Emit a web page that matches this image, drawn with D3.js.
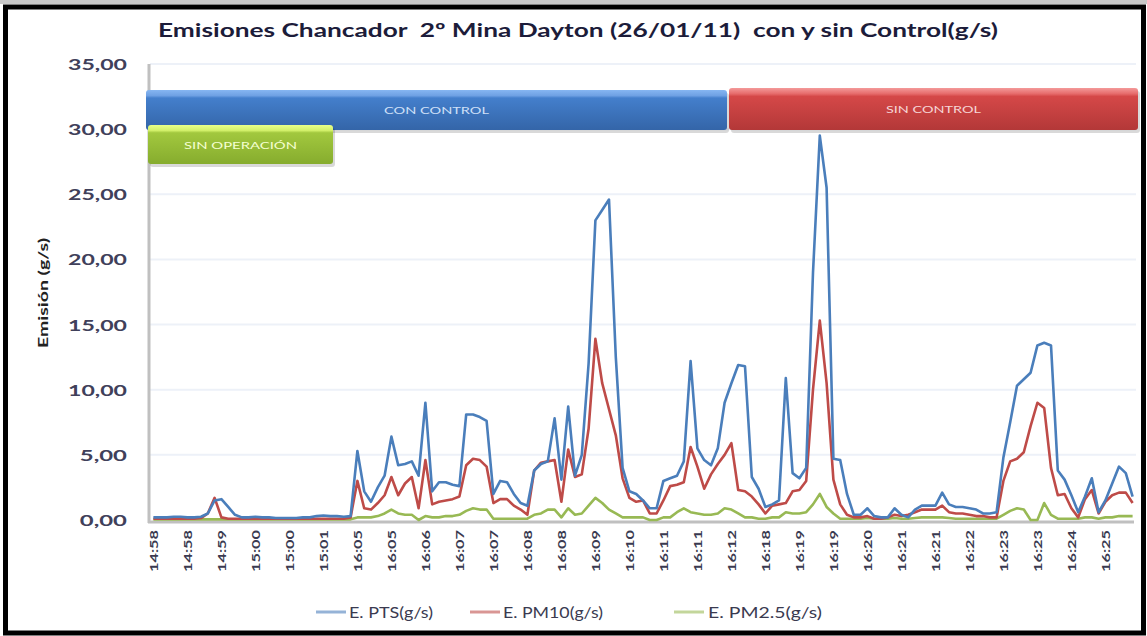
<!DOCTYPE html>
<html>
<head>
<meta charset="utf-8">
<script src="https://cdn.jsdelivr.net/npm/d3@7"></script>
<style>
    body { margin: 0; background: #fff; }
    #chart { width: 1147px; height: 636px; }
    text { font-family: Lato, "Open Sans", sans-serif; }
    .title { white-space: pre; }
</style>
</head>
<body>
<div id="chart"></div>
<script>

// tick labels, one every 5 readings
var tickLabels = ["14:58", "14:58", "14:59", "15:00", "15:00", "15:01", "16:05", "16:05", "16:06", "16:07",
    "16:07", "16:08", "16:08", "16:09", "16:10", "16:11", "16:11", "16:12", "16:18", "16:19",
    "16:19", "16:20", "16:21", "16:21", "16:22", "16:23", "16:23", "16:24", "16:25"];

// E. PTS (g/s)
var pts = [0.2, 0.2, 0.2, 0.25, 0.25, 0.2, 0.2, 0.25, 0.5, 1.5,
    1.6, 1.0, 0.4, 0.2, 0.2, 0.25, 0.2, 0.2, 0.15, 0.15,
    0.15, 0.15, 0.2, 0.2, 0.3, 0.35, 0.3, 0.3, 0.25, 0.3,
    5.3, 2.2, 1.4, 2.5, 3.4, 6.4, 4.2, 4.3, 4.5, 3.4,
    9.0, 2.2, 2.9, 2.9, 2.7, 2.6, 8.1, 8.1, 7.9, 7.6,
    2.0, 3.0, 2.9, 2.0, 1.3, 1.1, 3.8, 4.3, 4.5, 7.8,
    3.1, 8.7, 3.4, 5.0, 12.0, 23.0, 23.8, 24.6, 12.5, 4.0,
    2.2, 2.0, 1.5, 0.9, 0.9, 3.0, 3.2, 3.4, 4.5, 12.2,
    5.5, 4.6, 4.2, 5.5, 9.0, 10.5, 11.9, 11.8, 3.3, 2.4,
    1.0, 1.2, 1.5, 10.9, 3.6, 3.2, 4.0, 19.0, 29.5, 25.5,
    4.7, 4.6, 2.0, 0.4, 0.4, 0.9, 0.3, 0.2, 0.2, 0.9,
    0.4, 0.2, 0.8, 1.1, 1.1, 1.1, 2.1, 1.2, 1.0, 1.0,
    0.9, 0.8, 0.5, 0.5, 0.6, 4.8, 7.5, 10.3, 10.8, 11.3,
    13.4, 13.6, 13.4, 3.8, 3.1, 1.9, 0.6, 1.8, 3.2, 0.6,
    1.5, 2.8, 4.1, 3.6, 1.8];

// E. PM10 (g/s)
var pm10 = [0.1, 0.1, 0.1, 0.1, 0.1, 0.1, 0.1, 0.15, 0.5, 1.7,
    0.2, 0.1, 0.1, 0.1, 0.1, 0.1, 0.1, 0.1, 0.1, 0.1,
    0.1, 0.1, 0.1, 0.1, 0.1, 0.1, 0.1, 0.1, 0.1, 0.2,
    3.0, 0.9, 0.8, 1.3, 1.9, 3.3, 1.9, 2.8, 3.3, 0.9,
    4.6, 1.2, 1.4, 1.5, 1.6, 1.8, 4.2, 4.7, 4.6, 4.1,
    1.3, 1.6, 1.6, 1.1, 0.8, 0.4, 3.8, 4.4, 4.5, 4.6,
    1.4, 5.4, 3.3, 3.5, 7.0, 13.9, 10.5, 8.5, 6.5, 3.2,
    1.7, 1.4, 1.5, 0.5, 0.5, 1.5, 2.6, 2.7, 2.9, 5.6,
    4.1, 2.4, 3.5, 4.3, 5.0, 5.9, 2.3, 2.2, 1.8, 1.2,
    0.5, 1.1, 1.2, 1.3, 2.2, 2.3, 3.0, 10.0, 15.3, 10.5,
    3.1, 1.2, 0.4, 0.2, 0.2, 0.3, 0.1, 0.1, 0.2, 0.4,
    0.3, 0.4, 0.6, 0.8, 0.8, 0.8, 1.1, 0.6, 0.5, 0.5,
    0.4, 0.3, 0.3, 0.2, 0.2, 3.0, 4.5, 4.7, 5.2, 7.2,
    9.0, 8.6, 4.0, 1.9, 2.0, 0.9, 0.2, 1.6, 2.3, 0.5,
    1.4, 1.9, 2.1, 2.1, 1.3];

// E. PM2.5 (g/s)
var pm25 = [0.05, 0.05, 0.05, 0.05, 0.05, 0.05, 0.05, 0.05, 0.05, 0.05,
    0.05, 0.05, 0.05, 0.05, 0.05, 0.05, 0.05, 0.05, 0.05, 0.05,
    0.05, 0.05, 0.05, 0.05, 0.05, 0.05, 0.05, 0.05, 0.05, 0.05,
    0.2, 0.2, 0.2, 0.3, 0.5, 0.8, 0.5, 0.4, 0.4, 0.0,
    0.3, 0.2, 0.2, 0.3, 0.3, 0.4, 0.7, 0.9, 0.8, 0.8,
    0.1, 0.1, 0.1, 0.1, 0.1, 0.1, 0.4, 0.5, 0.8, 0.8,
    0.2, 0.9, 0.4, 0.5, 1.1, 1.7, 1.3, 0.8, 0.5, 0.2,
    0.2, 0.2, 0.2, 0.0, 0.0, 0.2, 0.2, 0.6, 0.9, 0.6,
    0.5, 0.4, 0.4, 0.5, 0.9, 0.8, 0.5, 0.2, 0.2, 0.1,
    0.1, 0.2, 0.2, 0.6, 0.5, 0.5, 0.6, 1.2, 2.0, 1.0,
    0.5, 0.1, 0.1, 0.1, 0.1, 0.15, 0.1, 0.1, 0.1, 0.15,
    0.1, 0.1, 0.15, 0.2, 0.2, 0.2, 0.2, 0.15, 0.1, 0.1,
    0.1, 0.1, 0.1, 0.1, 0.1, 0.4, 0.7, 0.9, 0.8, 0.0,
    0.0, 1.3, 0.4, 0.1, 0.1, 0.1, 0.1, 0.2, 0.2, 0.1,
    0.2, 0.2, 0.3, 0.3, 0.3];

var seriesNames = ["E. PTS(g/s)", "E. PM10(g/s)", "E. PM2.5(g/s)"];
var seriesColors = ["#4a7ebb", "#be4b48", "#98b954"];
var legendColors = ["#95b3d7", "#d99694", "#c3d69b"];

var yTicks = [0, 5, 10, 15, 20, 25, 30, 35];

/*
SVG CANVAS
*/
var width = document.querySelector("#chart").clientWidth;
var height = document.querySelector("#chart").clientHeight;
var svg = d3.select("#chart")
    .append("svg")
    .attr("width", width)
    .attr("height", height);

var margin = { top: 64, right: 11, bottom: 116, left: 150 };

// frame
svg.append("rect")
    .attr("x", 0).attr("y", 0)
    .attr("width", width).attr("height", 4)
    .attr("fill", "#c8c8c8");
svg.append("rect")
    .attr("x", 5.5).attr("y", 7)
    .attr("width", width - 9).attr("height", height - 10)
    .attr("fill", "#fff")
    .attr("stroke", "#000")
    .attr("stroke-width", 5);

/*
SCALES
*/
var xScale = d3.scalePoint()
    .domain(d3.range(pts.length))
    .range([margin.left, width - margin.right])
    .padding(0.5);

var yScale = d3.scaleLinear()
    .domain([0, 35])
    .range([height - margin.bottom, margin.top]);

var comma = d3.formatLocale({ decimal: ",", thousands: ".", grouping: [3], currency: ["", ""] }).format(".2f");

/*
GRIDLINES + AXES
*/
svg.append("g")
    .selectAll("line")
    .data(yTicks.slice(1))
    .join("line")
    .attr("x1", margin.left)
    .attr("x2", width - margin.right)
    .attr("y1", function (d) { return yScale(d); })
    .attr("y2", function (d) { return yScale(d); })
    .attr("stroke", "#edf1f8")
    .attr("stroke-width", 2);

svg.append("g")
    .selectAll("text")
    .data(yTicks)
    .join("text")
    .attr("x", 127)
    .attr("y", function (d) { return yScale(d) + 6; })
    .attr("text-anchor", "end")
    .attr("font-size", 16)
    .attr("font-weight", "bold")
    .attr("fill", "#40405a")
    .attr("textLength", function (d) { return comma(d).length * 11.8; })
    .attr("lengthAdjust", "spacingAndGlyphs")
    .text(function (d) { return comma(d); });

svg.append("text")
    .attr("transform", "translate(48," + 293 + ") rotate(-90)")
    .attr("text-anchor", "middle")
    .attr("font-size", 14)
    .attr("font-weight", "bold")
    .attr("fill", "#222")
    .attr("textLength", 110)
    .attr("lengthAdjust", "spacingAndGlyphs")
    .text("Emisión (g/s)");

var xAxis = svg.append("g")
    .attr("transform", "translate(0," + (height - margin.bottom) + ")")
    .call(d3.axisBottom(xScale)
        .tickValues(d3.range(0, pts.length, 5))
        .tickSize(0)
        .tickPadding(0)
        .tickFormat(function (d) { return tickLabels[d / 5]; }));

xAxis.select(".domain").remove();
xAxis.selectAll("text")
    .attr("transform", "rotate(-90)")
    .attr("x", -10)
    .attr("y", 0)
    .attr("dy", "0.35em")
    .attr("text-anchor", "end")
    .attr("font-size", 12)
    .attr("font-weight", "bold")
    .attr("font-family", "Lato, sans-serif")
    .attr("fill", "#3a3a50")
    .attr("textLength", 42)
    .attr("lengthAdjust", "spacingAndGlyphs");

// axis lines
svg.append("line")
    .attr("x1", margin.left - 1).attr("x2", margin.left - 1)
    .attr("y1", margin.top).attr("y2", height - margin.bottom + 3)
    .attr("stroke", "#c0c0c0").attr("stroke-width", 3);
svg.append("line")
    .attr("x1", margin.left - 2).attr("x2", width - margin.right - 2)
    .attr("y1", height - margin.bottom + 2).attr("y2", height - margin.bottom + 2)
    .attr("stroke", "#c0c0c0").attr("stroke-width", 3);

/*
BANNERS
*/
var defs = svg.append("defs");
function banner(id, c0, c1, c2, c3) {
    var g = defs.append("linearGradient").attr("id", id)
        .attr("x1", 0).attr("y1", 0).attr("x2", 0).attr("y2", 1);
    g.append("stop").attr("offset", 0).attr("stop-color", c0);
    g.append("stop").attr("offset", 0.14).attr("stop-color", c1);
    g.append("stop").attr("offset", 0.2).attr("stop-color", c2);
    g.append("stop").attr("offset", 1).attr("stop-color", c3);
}
banner("gBlue", "#86b6f2", "#6fa1e4", "#447fcc", "#3465a8");
banner("gRed", "#f49a9a", "#e66a6a", "#d54848", "#b33838");
banner("gGreen", "#e8ff8a", "#d2f06a", "#a2c83e", "#86ac2e");

var banners = [
    { x: 146, y: 90, w: 581, h: 40, fill: "url(#gBlue)", label: "CON CONTROL", tl: 105, col: "#cfe0f8" },
    { x: 729, y: 88, w: 409, h: 42, fill: "url(#gRed)", label: "SIN CONTROL", tl: 95, col: "#f6d6d6" },
    { x: 148, y: 125, w: 185, h: 39, fill: "url(#gGreen)", label: "SIN OPERACIÓN", tl: 113, col: "#f4ffd0" }
];

var bg = svg.append("g").selectAll("g").data(banners).join("g");
bg.append("rect")
    .attr("x", function (d) { return d.x + 2; })
    .attr("y", function (d) { return d.y + 3; })
    .attr("width", function (d) { return d.w; })
    .attr("height", function (d) { return d.h; })
    .attr("rx", 3)
    .attr("fill", "#000").attr("opacity", 0.15);
bg.append("rect")
    .attr("x", function (d) { return d.x; })
    .attr("y", function (d) { return d.y; })
    .attr("width", function (d) { return d.w; })
    .attr("height", function (d) { return d.h; })
    .attr("rx", 3)
    .attr("fill", function (d) { return d.fill; });
bg.append("text")
    .attr("x", function (d) { return d.x + d.w / 2; })
    .attr("y", function (d) { return d.y + d.h / 2 + 4; })
    .attr("text-anchor", "middle")
    .attr("font-size", 10)
    .attr("fill", function (d) { return d.col; })
    .attr("textLength", function (d) { return d.tl; })
    .attr("lengthAdjust", "spacingAndGlyphs")
    .text(function (d) { return d.label; });

/*
LINES
*/
var line = d3.line()
    .x(function (d, i) { return xScale(i); })
    .y(function (d) { return yScale(d); });

var allSeries = [pm25, pm10, pts];
var allColors = [seriesColors[2], seriesColors[1], seriesColors[0]];

svg.append("g")
    .selectAll("path")
    .data(allSeries)
    .join("path")
    .attr("d", line)
    .attr("fill", "none")
    .attr("stroke", function (d, i) { return allColors[i]; })
    .attr("stroke-width", 2.6)
    .attr("stroke-linejoin", "round");

/*
TITLE
*/
svg.append("text")
    .attr("class", "title")
    .attr("x", 578)
    .attr("y", 37)
    .attr("text-anchor", "middle")
    .attr("font-size", 19)
    .attr("font-weight", "bold")
    .attr("fill", "#1c1c3a")
    .attr("textLength", 840)
    .attr("lengthAdjust", "spacingAndGlyphs")
    .text("Emisiones Chancador  2º Mina Dayton (26/01/11)  con y sin Control(g/s)");

/*
LEGEND
*/
var legendItems = [
    { lx: 316, tx: 349, tl: 84 },
    { lx: 470, tx: 503, tl: 100 },
    { lx: 674, tx: 708, tl: 114 }
];
var lg = svg.append("g").selectAll("g").data(legendItems).join("g");
lg.append("line")
    .attr("x1", function (d) { return d.lx; })
    .attr("x2", function (d) { return d.lx + 30; })
    .attr("y1", 612).attr("y2", 612)
    .attr("stroke", function (d, i) { return legendColors[i]; })
    .attr("stroke-width", 3);
lg.append("text")
    .attr("x", function (d) { return d.tx; })
    .attr("y", 618)
    .attr("font-size", 15)
    .attr("fill", "#3a3a50")
    .attr("textLength", function (d) { return d.tl; })
    .attr("lengthAdjust", "spacingAndGlyphs")
    .text(function (d, i) { return seriesNames[i]; });

</script>
</body>
</html>
